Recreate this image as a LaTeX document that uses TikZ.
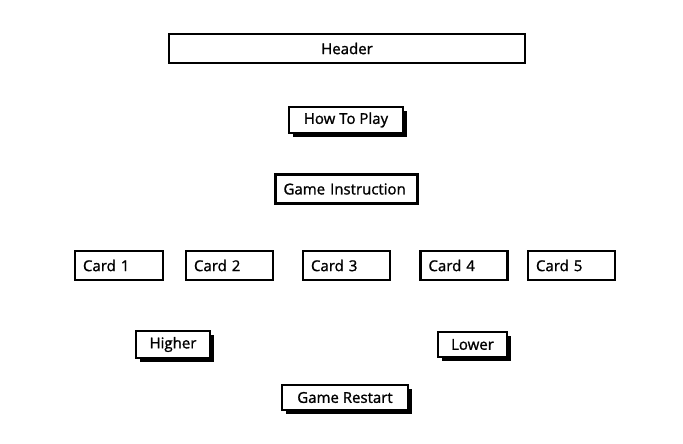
\documentclass[tikz,border=0pt]{standalone}
\usepackage{fontspec}
\setmainfont[FakeBold=1.2]{Open Sans}
\usetikzlibrary{shadows}
\begin{document}
\begin{tikzpicture}[x=1pt,y=1pt,
  base/.style={draw=black, line width=2.2pt, fill=white, rectangle, inner sep=0pt,
    font=\fontsize{15}{17}\selectfont},
  leftbox/.style={base, align=left, text width=#1-16pt, minimum width=#1},
  shadowbox/.style={base, drop shadow={shadow xshift=4pt, shadow yshift=-4.5pt, fill=black, opacity=1}},
]
\useasboundingbox (0,0) rectangle (683,444);
\node[base, minimum width=356pt, minimum height=29pt] (header) at (347,395.5) {Header};
\node[shadowbox, minimum width=114pt, minimum height=26pt] (howto) at (346,324) {How To Play};
\node[leftbox=142pt, minimum height=29pt] (instr) at (346.5,255) {Game~Instruction};
\node[leftbox=88pt, minimum height=29pt] (c1) at (119,178.5) {Card 1};
\node[leftbox=87pt, minimum height=29pt] (c2) at (229.5,178.5) {Card 2};
\node[leftbox=87pt, minimum height=29pt] (c3) at (346.5,178.5) {Card 3};
\node[leftbox=87pt, minimum height=29pt] (c4) at (464,178.5) {Card 4};
\node[leftbox=87pt, minimum height=29pt] (c5) at (571.5,178.5) {Card 5};
\node[shadowbox, minimum width=74pt, minimum height=27pt] (higher) at (173,99.5) {Higher};
\node[shadowbox, minimum width=69pt, minimum height=25pt] (lower) at (472.5,99.5) {Lower};
\node[shadowbox, minimum width=126pt, minimum height=25pt] (restart) at (345,46.5) {Game Restart};
\end{tikzpicture}
\end{document}
